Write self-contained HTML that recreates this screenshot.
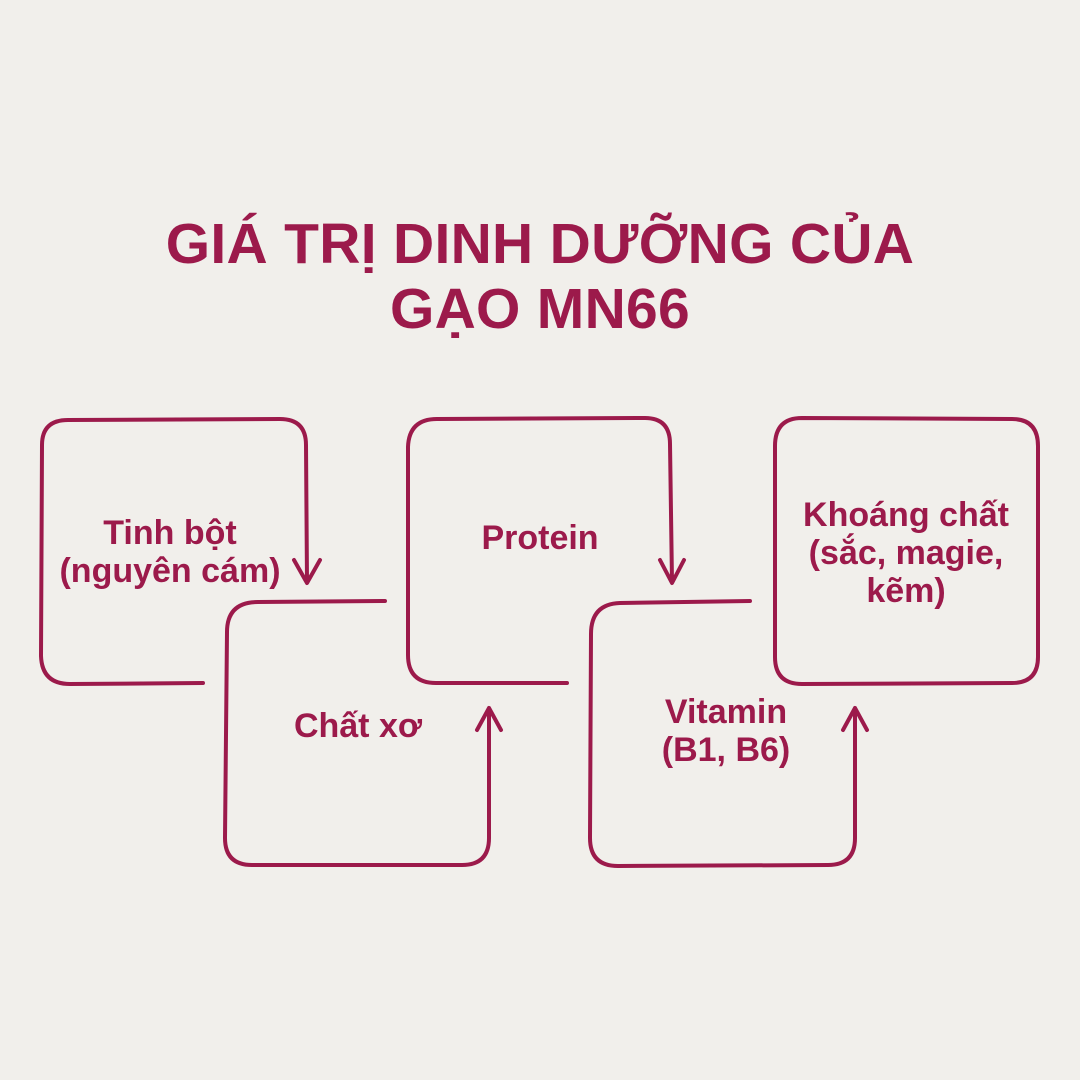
<!DOCTYPE html>
<html><head><meta charset="utf-8"><style>
body{margin:0;width:1080px;height:1080px;background:#f1efeb;overflow:hidden;position:relative;font-family:"Liberation Sans",sans-serif;color:#9c1a4b}
svg{position:absolute;left:0;top:0}
.t{position:absolute;font-weight:bold;text-align:center;white-space:nowrap;transform:translateX(-50%)}
.title{font-size:57px;line-height:65px;left:540px;top:212px;letter-spacing:0.3px}
.l{font-size:34px;line-height:38px}
</style></head><body>
<svg width="1080" height="1080" fill="none" stroke="#9c1a4b" stroke-width="4" stroke-linecap="round" stroke-linejoin="round">
<path d="M203 683 L70 684 Q42 684 41 656 L42 445 Q42 420 68 420 L280 419 Q306 419 306 445 L307 582 M294 560 L307 583 L320 560"/>
<path d="M385 601 L258 602 Q227 602 227 632 L225 838 Q225 865 252 865 L462 865 Q489 865 489 838 L489 708 M477 730 L489 708 L501 730"/>
<path d="M567 683 L436 683 Q408 683 408 655 L408 447 Q409 419 437 419 L645 418 Q670 418 670 444 L672 582 M660 560 L672 583 L684 560"/>
<path d="M750 601 L620 603 Q591 604 591 634 L590 838 Q590 866 618 866 L828 865 Q855 865 855 838 L855 708 M843 730 L855 708 L867 730"/>
<path d="M802 418 L1012 419 Q1038 419 1038 446 L1038 657 Q1038 683 1012 683 L802 684 Q775 684 775 657 L775 446 Q775 418 802 418 Z"/>
</svg>
<div class="t title">GIÁ TRỊ DINH DƯỠNG CỦA<br>GẠO MN66</div>
<div class="t l" style="left:170px;top:514px">Tinh bột<br>(nguyên cám)</div>
<div class="t l" style="left:358px;top:707px">Chất xơ</div>
<div class="t l" style="left:540px;top:519px">Protein</div>
<div class="t l" style="left:726px;top:693px">Vitamin<br>(B1, B6)</div>
<div class="t l" style="left:906px;top:496px">Khoáng chất<br>(sắc, magie,<br>kẽm)</div>
</body></html>
